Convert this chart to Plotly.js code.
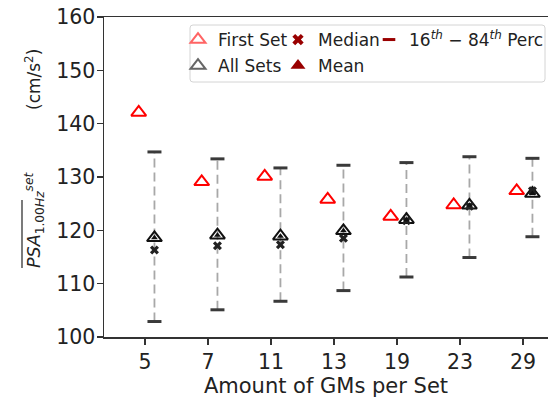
<!DOCTYPE html>
<html>
<head>
<meta charset="utf-8">
<script src="https://cdn.plot.ly/plotly-3.0.1.min.js"></script>
<style>html,body{margin:0;padding:0;background:#fff;}#chart{width:548px;height:399px;}</style>
</head>
<body>
<div id="chart"></div>
<script>
// ---- data ----
const categories = ['5', '7', '11', '13', '19', '23', '29'];
const firstSet   = [142.1, 129.1, 130.1, 125.8, 122.6, 124.75, 127.4];
const allSets    = [118.6, 119.1, 118.9, 119.9, 122.0, 124.7, 126.9];
const meanVals   = [118.6, 119.1, 118.9, 119.9, 122.0, 124.7, 126.9];
const medianVals = [116.3, 117.1, 117.3, 118.5, 121.8, 124.5, 127.4];
const perc84     = [134.7, 133.4, 131.7, 132.2, 132.7, 133.8, 133.5];
const perc16     = [102.9, 105.1, 106.7, 108.7, 111.25, 114.9, 118.8];
const yTicks     = [100, 110, 120, 130, 140, 150, 160];

const idx = categories.map((c, i) => i);
const xFirst = idx.map(i => i - 0.1);
const xAll = idx.map(i => i + 0.15);

// dashed percentile ranges as separate segments
const segX = [], segY = [];
idx.forEach(i => { segX.push(xAll[i], xAll[i], null); segY.push(perc16[i], perc84[i], null); });

const font = 'DejaVu Sans, sans-serif';
const traces = [
  {x: segX, y: segY, mode: 'lines', line: {color: '#a8a8a8', width: 1.8, dash: '9px,5px'}, showlegend: false, hoverinfo: 'skip'},
  {x: xAll.concat(xAll), y: perc16.concat(perc84), mode: 'markers',
   marker: {symbol: 'line-ew', size: 10, line: {color: '#3a3a3a', width: 3}}, showlegend: false},
  {x: xFirst, y: firstSet, mode: 'markers',
   marker: {symbol: 'triangle-up-open', size: 13, color: '#ff0000', line: {width: 2, color: '#ff0000'}}, showlegend: false},
  {x: xAll, y: allSets, mode: 'markers',
   marker: {symbol: 'triangle-up-open', size: 13, color: '#111', line: {width: 2, color: '#111'}}, showlegend: false},
  {x: xAll, y: medianVals, mode: 'markers',
   marker: {symbol: 'x', size: 8, color: '#222', line: {width: 0}}, showlegend: false},
  {x: xAll, y: meanVals, mode: 'markers',
   marker: {symbol: 'triangle-up', size: 6, color: '#111'}, showlegend: false},
  // legend entries
  {x: [null], y: [null], mode: 'markers', name: 'First Set', legend: 'legend',
   marker: {symbol: 'triangle-up-open', size: 13, color: '#ff6464', line: {width: 2, color: '#ff6464'}}},
  {x: [null], y: [null], mode: 'markers', name: 'All Sets', legend: 'legend2',
   marker: {symbol: 'triangle-up-open', size: 13, color: '#666', line: {width: 2, color: '#666'}}},
  {x: [null], y: [null], mode: 'markers', name: 'Median', legend: 'legend3',
   marker: {symbol: 'x', size: 10, color: '#990000', line: {width: 0}}},
  {x: [null], y: [null], mode: 'markers', name: 'Mean', legend: 'legend4',
   marker: {symbol: 'triangle-up', size: 13, color: '#990000'}},
  {x: [null], y: [null], mode: 'markers', name: '16<sup><i>th</i></sup> \u2212 84<sup><i>th</i></sup> Perc', legend: 'legend5',
   marker: {symbol: 'line-ew', size: 9, line: {color: '#990000', width: 3}}}
];

const L = 104, T = 17, W = 444, H = 320;
const px = v => (v - L) / W;
const py = v => (T + H - v) / H;

const leg = (xp, yp, fs) => ({orientation: 'h', xanchor: 'left', yanchor: 'top', bgcolor: 'rgba(0,0,0,0)', borderwidth: 0,
  font: {family: font, size: fs || 17, color: '#222'}, itemwidth: 30, x: px(xp), y: py(yp)});

const r = 3;
const bx0 = 190, bx1 = 545, by0 = 25, by1 = 82;
const boxPath = `M ${px(bx0 + r)} ${py(by0)} L ${px(bx1 - r)} ${py(by0)} Q ${px(bx1)} ${py(by0)} ${px(bx1)} ${py(by0 + r)} ` +
  `L ${px(bx1)} ${py(by1 - r)} Q ${px(bx1)} ${py(by1)} ${px(bx1 - r)} ${py(by1)} L ${px(bx0 + r)} ${py(by1)} ` +
  `Q ${px(bx0)} ${py(by1)} ${px(bx0)} ${py(by1 - r)} L ${px(bx0)} ${py(by0 + r)} Q ${px(bx0)} ${py(by0)} ${px(bx0 + r)} ${py(by0)} Z`;

const layout = {
  width: 548, height: 399,
  margin: {l: L, r: 0, t: T, b: 399 - T - H, autoexpand: false},
  paper_bgcolor: '#fff', plot_bgcolor: '#fff',
  font: {family: font, size: 20, color: '#222'},
  showlegend: true,
  xaxis: {
    range: [-0.651, 6.397], tickvals: idx, ticktext: categories,
    ticks: 'outside', ticklen: 6, tickwidth: 1.5, tickcolor: '#333',
    showline: true, linecolor: '#333', linewidth: 1.5, mirror: true,
    showgrid: false, zeroline: false,
    tickfont: {family: font, size: 20.5, color: '#222'},
    title: {text: 'Amount of GMs per Set', font: {family: font, size: 21, color: '#222'}, standoff: 1}
  },
  yaxis: {
    range: [100, 160], tickvals: yTicks,
    ticks: 'outside', ticklen: 6, tickwidth: 1.5, tickcolor: '#333',
    showline: true, linecolor: '#333', linewidth: 1.5, mirror: false,
    showgrid: false, zeroline: false, ticklabelstandoff: -3,
    tickfont: {family: font, size: 20.5, color: '#222'}
  },
  legend: leg(178, 22),
  legend2: leg(178, 48),
  legend3: leg(278, 22),
  legend4: leg(278, 48),
  legend5: leg(369, 22),
  shapes: [
    {type: 'path', xref: 'paper', yref: 'paper', path: boxPath, line: {color: '#d4d4d4', width: 1}, fillcolor: 'rgba(255,255,255,0.8)', layer: 'above'},
    {type: 'line', xref: 'paper', yref: 'paper', x0: px(22), x1: px(22), y0: py(200), y1: py(268), line: {color: '#222', width: 1.2}}
  ],
  annotations: [
    {xref: 'paper', yref: 'paper', x: px(34), y: py(220), xanchor: 'center', yanchor: 'middle', showarrow: false, textangle: -90,
     text: '<i>PSA</i><sub>1.00<i>Hz</i></sub><sup><i>set</i></sup>', font: {family: font, size: 17.5, color: '#222'}},
    {xref: 'paper', yref: 'paper', x: px(33), y: py(80), xanchor: 'center', yanchor: 'middle', showarrow: false, textangle: -90,
     text: '(cm/s<sup>2</sup>)', font: {family: font, size: 17, color: '#222'}}
  ]
};

Plotly.newPlot('chart', traces, layout, {displayModeBar: false, staticPlot: true});
</script>
</body>
</html>
